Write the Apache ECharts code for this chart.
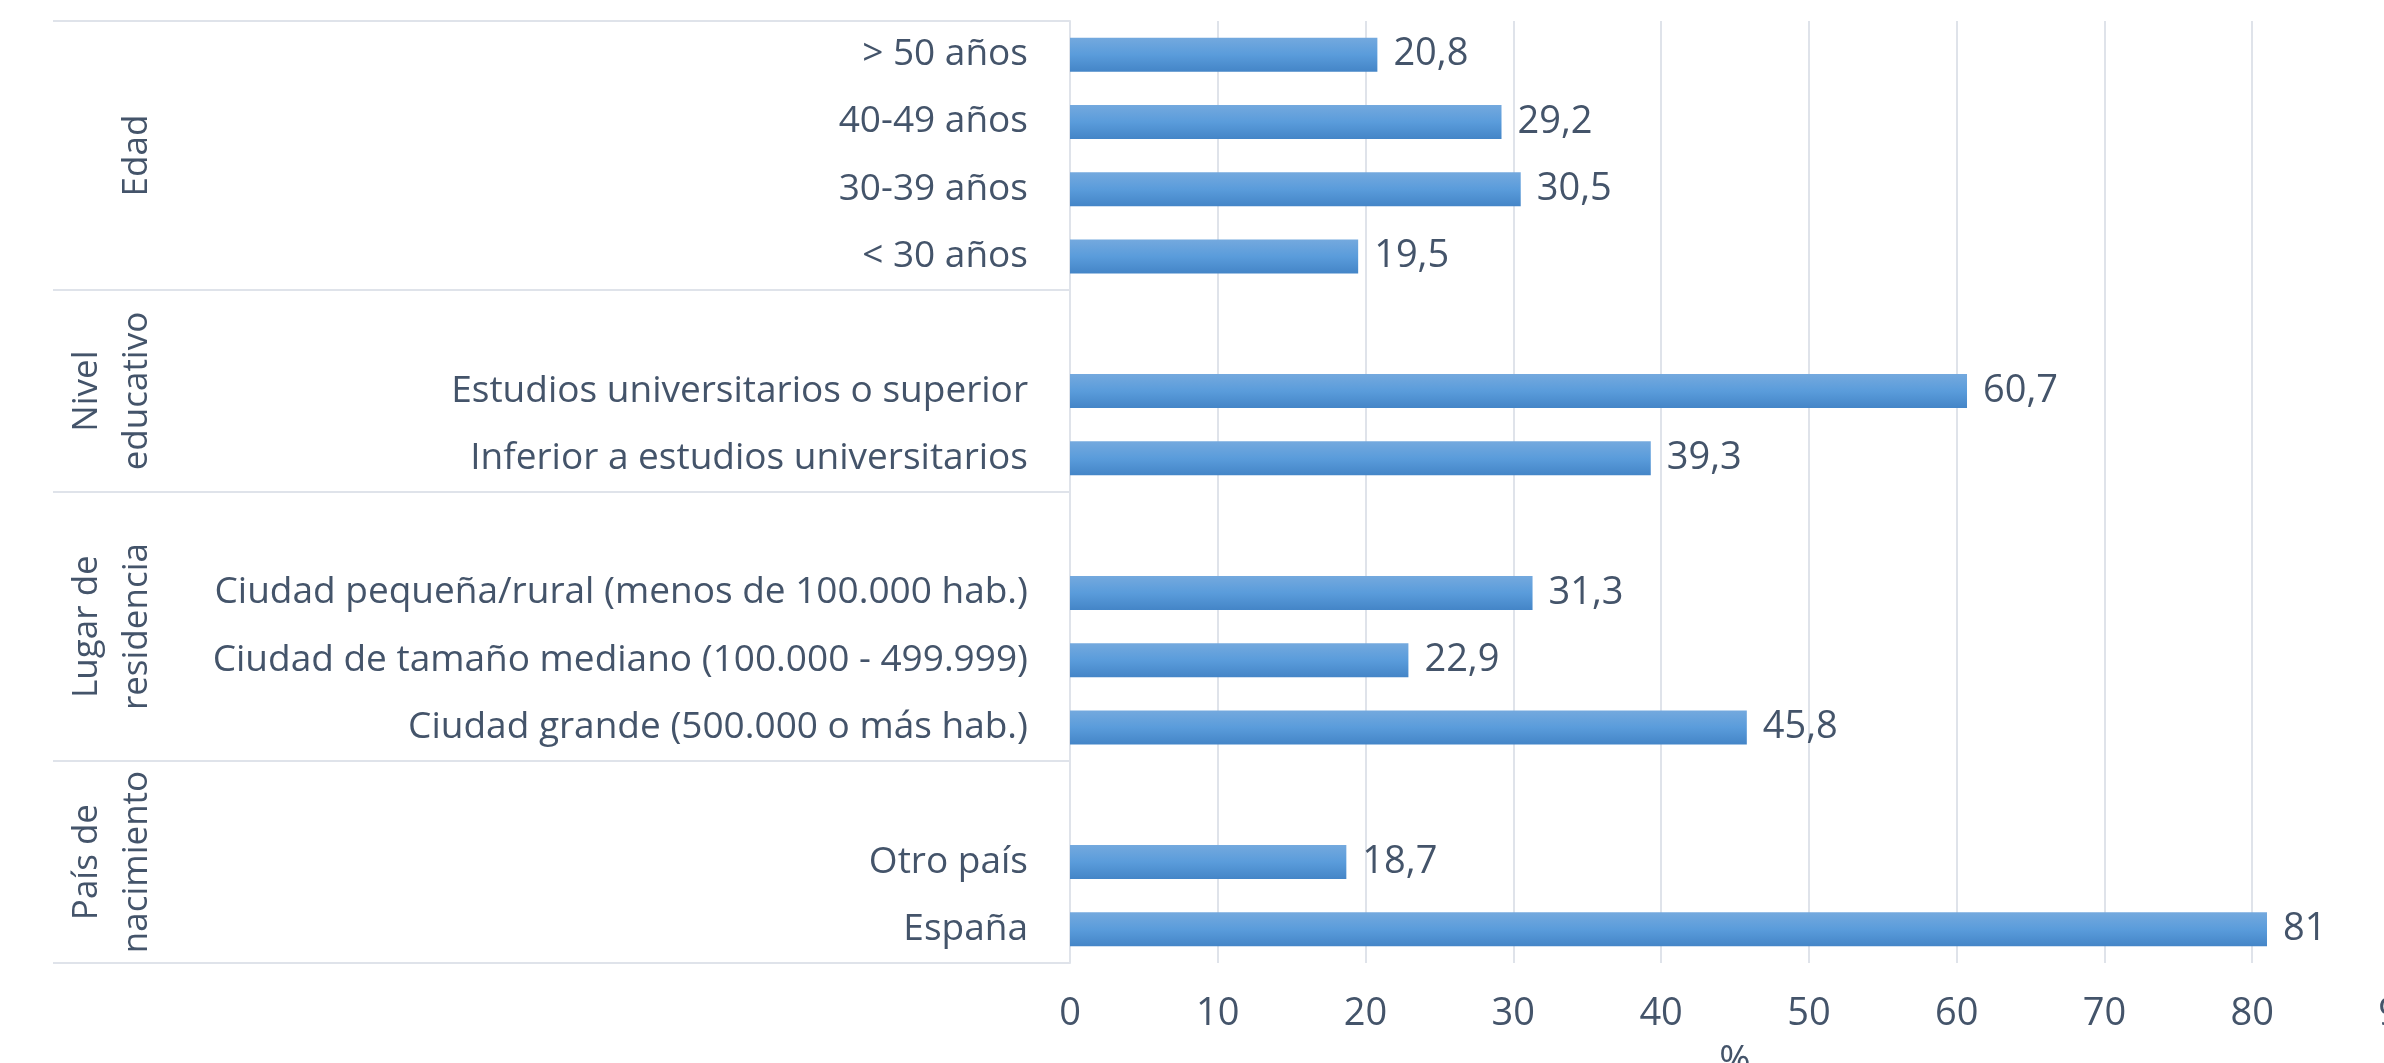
<!DOCTYPE html>
<html>
<head>
<meta charset="utf-8">
<script src="https://cdn.jsdelivr.net/npm/echarts@6.0.0/dist/echarts.min.js"></script>
<style>
  html, body { margin: 0; padding: 0; background: #fff; }
  #main { width: 2384px; height: 1063px; }
</style>
</head>
<body>
<div id="main"></div>
<script>
// categorías (los huecos vacíos separan los grupos, como en el gráfico de Excel)
const categories = [
  '> 50 años', '40-49 años', '30-39 años', '< 30 años',
  '', 'Estudios universitarios o superior', 'Inferior a estudios universitarios',
  '', 'Ciudad pequeña/rural (menos de 100.000 hab.)', 'Ciudad de tamaño mediano (100.000 - 499.999)', 'Ciudad grande (500.000 o más hab.)',
  '', 'Otro país', 'España'
]
const values = [20.8, 29.2, 30.5, 19.5, null, 60.7, 39.3, null, 31.3, 22.9, 45.8, null, 18.7, 81]
const groupNames = ['Edad', 'Nivel\neducativo', 'Lugar de\nresidencia', 'País de\nnacimiento']
const groupStart = [0, 4, 7, 11]
const groupEnd = [3, 6, 10, 13]
const xMin = 0
const xMax = 90
const xStep = 10

const textColor = '#44546a'
const lineColor = '#dfe3ea'
const font = 'Open Sans'

const chart = echarts.init(document.getElementById('main'))

const option = {
  animation: false,
  grid: { left: 1070, right: -16, top: 21, bottom: 100, containLabel: false, outerBoundsMode: 'none' },
  xAxis: {
    type: 'value',
    min: xMin,
    max: xMax,
    interval: xStep,
    name: '%',
    nameLocation: 'middle',
    nameGap: 80,
    nameTextStyle: { color: textColor, fontFamily: font, fontSize: 38 },
    axisLine: { show: false },
    axisTick: { show: false },
    axisLabel: { color: textColor, fontFamily: font, fontSize: 38, margin: 32 },
    splitLine: { lineStyle: { color: lineColor, width: 2 } }
  },
  yAxis: {
    type: 'category',
    inverse: true,
    data: categories,
    axisLine: { show: true, lineStyle: { color: lineColor, width: 2 } },
    // líneas separadoras de grupos, dibujadas como marcas largas del eje
    axisTick: {
      show: true,
      length: 1017,
      interval: (idx) => groupStart.includes(idx),
      lineStyle: { color: lineColor, width: 2 }
    },
    axisLabel: { interval: 0, color: textColor, fontFamily: font, fontSize: 37, margin: 42 }
  },
  series: [
    {
      type: 'bar',
      data: values,
      barWidth: 34,
      itemStyle: {
        color: new echarts.graphic.LinearGradient(0, 0, 0, 1, [
          { offset: 0, color: '#74a9de' },
          { offset: 0.5, color: '#5a9cdb' },
          { offset: 1, color: '#4485c7' }
        ])
      },
      label: {
        show: true,
        position: 'right',
        distance: 16,
        color: textColor,
        fontFamily: font,
        fontSize: 38,
        formatter: (p) => String(p.value).replace('.', ',')
      }
    }
  ]
}

chart.setOption(option)

// etiquetas de grupo giradas, centradas en cada bloque de categorías
const groupLabels = groupNames.map((name, i) => {
  const y0 = chart.convertToPixel({ yAxisIndex: 0 }, groupStart[i])
  const y1 = chart.convertToPixel({ yAxisIndex: 0 }, groupEnd[i])
  return {
    type: 'text',
    x: 162,
    y: (y0 + y1) / 2,
    rotation: Math.PI / 2,
    style: {
      text: name,
      fill: textColor,
      font: '35px "Open Sans"',
      align: 'center',
      verticalAlign: 'bottom',
      lineHeight: 50
    }
  }
})

chart.setOption({ graphic: groupLabels })
</script>
</body>
</html>
